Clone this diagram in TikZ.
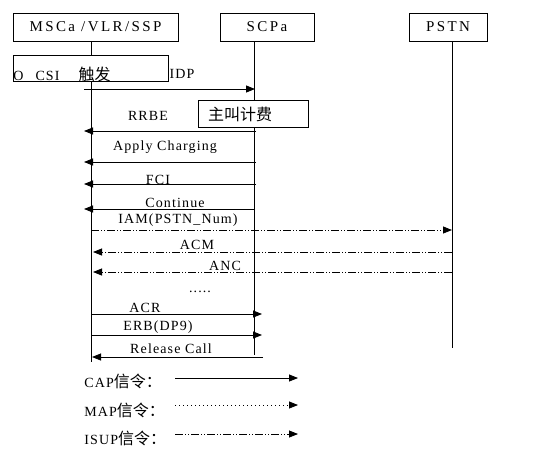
\documentclass[tikz,border=0pt]{standalone}
\usepackage{fontspec}
\setmainfont{Liberation Serif}[LetterSpace=8]
\newfontfamily\cjk{Noto Sans CJK SC}
\usetikzlibrary{arrows.meta}
\newcommand{\zhtext}[1]{{\cjk\fontsize{16}{18}\selectfont #1}}

\begin{document}
\begin{tikzpicture}[x=1pt, y=-1pt, line width=0.8pt,
    font=\fontsize{14}{16}\selectfont,
    entity/.style={draw, inner sep=0pt, minimum height=28pt,
      font=\fontsize{15}{17}\selectfont\addfontfeature{LetterSpace=16}},
    lbl/.style={inner sep=0pt},
    capmsg/.style={-{Triangle[length=9pt, width=7pt]}},
    mapmsg/.style={capmsg, dash pattern=on 1pt off 3pt},
    isupmsg/.style={capmsg, dash pattern=on 8pt off 2pt on 1pt off 2pt on 1pt off 2pt}]
      \useasboundingbox (0,0) rectangle (537,455);

      % entities
      \node[entity, minimum width=165pt] (msc) at (95.5,27) {MSCa /VLR/SSP};
      \node[entity, minimum width=94pt] (scp) at (267,27) {SCPa};
      \node[entity, minimum width=78pt] (pstn) at (448,27) {PSTN};

      % lifelines
      \coordinate (mscTop) at (91,41);
      \coordinate (mscEnd) at (91,362);
      \coordinate (scpTop) at (254,41);
      \coordinate (scpEnd) at (254,355);
      \coordinate (pstnTop) at (452,41);
      \coordinate (pstnEnd) at (452,348);
      \draw (mscTop) -- (mscEnd);
      \draw (scpTop) -- (scpEnd);
      \draw (pstnTop) -- (pstnEnd);

      % boxes on the lifelines
      \node[draw, fill=white, inner sep=0pt, minimum width=155pt, minimum height=26pt] (trig) at (90.5,68) {};
      \node[lbl, anchor=west] (trigtxt) at (13,74) {O\hspace{12pt}CSI\hspace{19pt}\zhtext{触发}};
      \node[lbl] (idp) at (182,74) {IDP};
      \coordinate (idpA) at (84,89);
      \coordinate (idpB) at (255,89);
      \draw[capmsg] (idpA) -- (idpB);

      \node[draw, fill=white, inner sep=0pt, minimum width=110pt, minimum height=27pt] (fee) at (253,113.5) {};
      \node[lbl] (feetxt) at (240,114) {\zhtext{主叫计费}};

      % CAP messages
      \node[lbl] (rrbe) at (148,116) {RRBE};
      \coordinate (rrbeA) at (256,131);
      \coordinate (rrbeB) at (84,131);
      \draw[capmsg] (rrbeA) -- (rrbeB);

      \node[lbl] (apc) at (165,147) {Apply Charging};
      \coordinate (apcA) at (256,162);
      \coordinate (apcB) at (84,162);
      \draw[capmsg] (apcA) -- (apcB);

      \node[lbl] (fci) at (158,180) {FCI};
      \coordinate (fciA) at (256,184);
      \coordinate (fciB) at (84,184);
      \draw[capmsg] (fciA) -- (fciB);

      \node[lbl] (cont) at (175,203) {Continue};
      \coordinate (contA) at (255,209);
      \coordinate (contB) at (84,209);
      \draw[capmsg] (contA) -- (contB);

      % ISUP messages
      \node[lbl] (iam) at (178,220) {IAM(PSTN\_Num)};
      \coordinate (iamA) at (91,230);
      \coordinate (iamB) at (452,230);
      \draw[isupmsg] (iamA) -- (iamB);

      \node[lbl] (acm) at (197,245) {ACM};
      \coordinate (acmA) at (452,252);
      \coordinate (acmB) at (93,252);
      \draw[isupmsg] (acmA) -- (acmB);

      \node[lbl] (anc) at (225,266) {ANC};
      \coordinate (ancA) at (452,272);
      \coordinate (ancB) at (93,272);
      \draw[isupmsg] (ancA) -- (ancB);

      \node[lbl] (dots) at (200,292) {.....};

      \node[lbl] (acr) at (145,308) {ACR};
      \coordinate (acrA) at (91,314);
      \coordinate (acrB) at (262,314);
      \draw[capmsg] (acrA) -- (acrB);

      \node[lbl] (erb) at (158,327) {ERB(DP9)};
      \coordinate (erbA) at (91,335);
      \coordinate (erbB) at (262,335);
      \draw[capmsg] (erbA) -- (erbB);

      \node[lbl] (rel) at (171,349) {Release Call};
      \coordinate (relA) at (263,357);
      \coordinate (relB) at (92,357);
      \draw[capmsg] (relA) -- (relB);

      % legend
      \node[lbl, anchor=west] (capkey) at (84,381) {CAP\zhtext{信令：}};
      \coordinate (capA) at (175,378);
      \coordinate (capB) at (298,378);
      \draw[capmsg] (capA) -- (capB);

      \node[lbl, anchor=west] (mapkey) at (84,410) {MAP\zhtext{信令：}};
      \coordinate (mapA) at (175,405);
      \coordinate (mapB) at (298,405);
      \draw[mapmsg] (mapA) -- (mapB);

      \node[lbl, anchor=west] (isupkey) at (84,438) {ISUP\zhtext{信令：}};
      \coordinate (isupA) at (175,434);
      \coordinate (isupB) at (298,434);
      \draw[isupmsg] (isupA) -- (isupB);
\end{tikzpicture}
\end{document}
